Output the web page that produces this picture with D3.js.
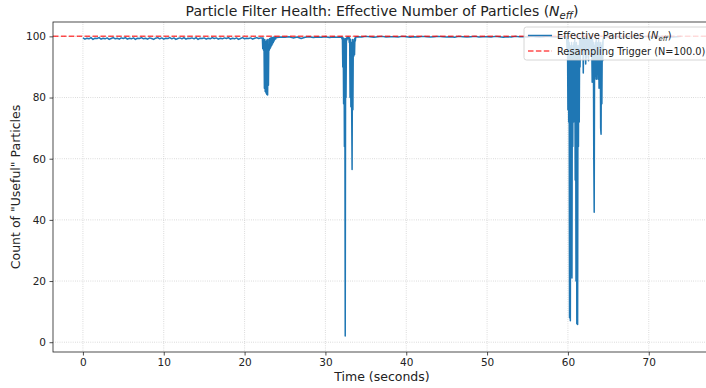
<!DOCTYPE html>
<html>
<head>
<meta charset="utf-8">
<script src="https://cdn.jsdelivr.net/npm/d3@7"></script>
<style>
  body { margin: 0; background: #fff; }
  svg { display: block; font-family: "DejaVu Sans", sans-serif; }
</style>
</head>
<body>
<svg id="chart" width="706" height="388"></svg>
<script>
// quiet stretches: start time, step
const quietA = { start: 0, step: 0.25, values: [
  99.5,99.1,99.4,99.2,99.6,99.0,99.4,99.3,99.6,99.1,
  99.4,99.2,99.5,99.0,99.3,99.6,99.2,99.4,99.1,99.5,
  99.3,99.6,99.1,99.4,99.2,99.5,99.0,99.4,99.3,99.6,
  99.2,99.4,99.1,99.5,99.3,99.0,99.4,99.6,99.2,99.5,
  99.1,99.4,99.3,99.6,99.2,99.5,99.0,99.3,99.5,99.2,
  99.6,99.1,99.4,99.3,99.5,99.2,99.6,99.0,99.4,99.3,
  99.5,99.1,99.4,99.2,99.6,99.3,99.5,99.1,99.4,99.2,
  99.5,99.3,99.6,99.1,99.4,99.2,99.5,99.0,99.3,99.6,
  99.2,99.4,99.3,99.5,99.1,99.4,99.6,99.3,99.5] };
const quietB = { start: 24, step: 0.5, values: [
  99.6,99.8,99.7,99.9,99.5,99.8,99.3,99.7,99.9,99.6,99.8,99.7,99.9,99.6,99.8,99.7] };
const quietC = { start: 34, step: 0.5, values: [
  99.9,99.8,100,99.9,99.7,99.9,100,99.8,99.9,99.9,
  99.8,100,99.9,99.7,99.9,99.8,100,99.9,99.8,99.9,
  100,99.9,99.8,99.9,99.7,100,99.9,99.8,99.9,100,
  99.8,99.9,99.9,99.8,100,99.9,99.7,99.9,99.8,100,
  99.9,99.9,99.8,100,99.9,99.8,99.9,100,99.9,99.8,
  99.9,99.9] };
const quietD = { start: 64.5, step: 0.5, values: [
  99.8,99.9,100,99.9,99.8,99.9,100,99.9,99.9,99.8,100,99.9,99.8,99.9,100,99.9,99.9,99.8,99.9,100] };

// collapse events, sampled every 0.05 s
const dipA = { start: 22.2, step: 0.05, values: [
  99.5,96,99.5,95.5,99,83,99,82,98,81.5,
  98.5,81,99,80.8,97,84,99,95.5,99.2,96,
  99.5,96.5,99.5,97,99.6,97.5,99.6,98,99.7,98.5,
  99.7,99,99.8,99.2,99.8] };
const dipB = { start: 32.0, step: 0.05, values: [
  99.8,99.2,99.7,90,99.5,78,99.3,64,99,2,
  99.2,80,99.5,98.8,99.7,99.2,99.8,99.3,99.7,98,
  99.5,80,99,77,98,76,56.5,99,76,98,
  93.5,99,94,99.5,98.5,99.8] };
const dipC = { start: 59.8, step: 0.05, values: [
  99.8,99,96,99,76,99,72,98,8,97,
  7,96,22,98,21,95,64,97,72,98,
  90,99,53,97,20,98,6,96,5.8,97,
  64,95,72,99,90,99,97,99.5] };
const dipD = { start: 61.7, step: 0.05, values: [
  96,99.5,97,99,88,99,98,99.6,96,
  99,91,99.5,93,99,97,99.6,99,92,99,
  98,99.5,96,99,99.6] };
const dipE = { start: 62.9, step: 0.05, values: [
  99,97,85,99,86,98,60,42.5,97,86,
  98,87,99,86,97,88,98,86,99,83,
  97,84,98,70,68,97,78,98,92,99,
  99.6] };

const triggerN = 100.0;
const xTicks = [0, 10, 20, 30, 40, 50, 60, 70];
const yTicks = [0, 20, 40, 60, 80, 100];

function expand(q) { return q.values.map((v, i) => [q.start + i * q.step, v]); }

const series = [quietA, dipA, quietB, dipB, quietC, dipC, dipD, dipE, quietD]
  .flatMap(expand).sort((a, b) => a[0] - b[0]);

const svg = d3.select("#chart");
const m = { left: 53, right: 711, top: 22, bottom: 352 };

const x = d3.scaleLinear().domain([-3.7, 77.7]).range([m.left, m.right]);
const y = d3.scaleLinear().domain([-3.2, 104.7]).range([m.bottom, m.top]);

svg.append("rect").attr("width", 706).attr("height", 388).attr("fill", "#fff");

// grid
const grid = svg.append("g").attr("stroke", "#c8c8c8").attr("stroke-width", 0.8)
  .attr("stroke-dasharray", "0.8,1.4");
grid.selectAll(".gx").data(xTicks).join("line")
  .attr("x1", d => x(d)).attr("x2", d => x(d)).attr("y1", m.top).attr("y2", m.bottom);
grid.selectAll(".gy").data(yTicks).join("line")
  .attr("x1", m.left).attr("x2", m.right).attr("y1", d => y(d)).attr("y2", d => y(d));

const plot = svg.append("g");
plot.append("path").datum(series)
  .attr("fill", "none").attr("stroke", "#1f77b4").attr("stroke-width", 1.5)
  .attr("stroke-linejoin", "round")
  .attr("d", d3.line().x(d => x(d[0])).y(d => y(d[1])));

plot.append("line")
  .attr("x1", m.left).attr("x2", m.right).attr("y1", y(triggerN)).attr("y2", y(triggerN))
  .attr("stroke", "red").attr("stroke-opacity", 0.7).attr("stroke-width", 1.5)
  .attr("stroke-dasharray", "5.5,2.4");

// axes
const xAxis = svg.append("g").attr("transform", `translate(0,${m.bottom})`)
  .call(d3.axisBottom(x).tickValues(xTicks).tickSize(3.5).tickPadding(3.5));
const yAxis = svg.append("g").attr("transform", `translate(${m.left},0)`)
  .call(d3.axisLeft(y).tickValues(yTicks).tickSize(3.5).tickPadding(3.5));
[xAxis, yAxis].forEach(g => {
  g.select(".domain").remove();
  g.selectAll("line").attr("stroke", "#222").attr("stroke-width", 0.8);
  g.selectAll("text").attr("font-size", 10.5).attr("fill", "#222")
    .attr("font-family", "DejaVu Sans");
});

// spines
svg.append("rect").attr("x", m.left).attr("y", m.top).attr("width", m.right - m.left)
  .attr("height", m.bottom - m.top).attr("fill", "none").attr("stroke", "#222").attr("stroke-width", 0.8);

// title & labels
const title = svg.append("text").attr("x", (m.left + m.right) / 2).attr("y", 16)
  .attr("text-anchor", "middle").attr("font-size", 14).attr("fill", "#222");
title.append("tspan").text("Particle Filter Health: Effective Number of Particles (");
title.append("tspan").attr("font-style", "italic").text("N");
title.append("tspan").attr("font-style", "italic").attr("font-size", 10).attr("dy", 3).text("eff");
title.append("tspan").attr("dy", -3).text(")");

svg.append("text").attr("x", (m.left + m.right) / 2).attr("y", 381)
  .attr("text-anchor", "middle").attr("font-size", 12.5).attr("fill", "#222")
  .text("Time (seconds)");
svg.append("text").attr("transform", `translate(20,${(m.top + m.bottom) / 2}) rotate(-90)`)
  .attr("text-anchor", "middle").attr("font-size", 12.5).attr("fill", "#222")
  .text("Count of \"Useful\" Particles");

// legend
const lg = svg.append("g").attr("transform", "translate(524,27)");
lg.append("rect").attr("width", 190).attr("height", 33).attr("rx", 2.5)
  .attr("fill", "#fff").attr("fill-opacity", 0.8).attr("stroke", "#ccc").attr("stroke-width", 0.8);
lg.append("line").attr("x1", 4).attr("x2", 28).attr("y1", 8.5).attr("y2", 8.5)
  .attr("stroke", "#1f77b4").attr("stroke-width", 1.5);
lg.append("line").attr("x1", 4).attr("x2", 28).attr("y1", 24).attr("y2", 24)
  .attr("stroke", "red").attr("stroke-opacity", 0.7).attr("stroke-width", 1.5)
  .attr("stroke-dasharray", "5.5,2.4");
const l1 = lg.append("text").attr("x", 33).attr("y", 12).attr("font-size", 9.8).attr("fill", "#222");
l1.append("tspan").text("Effective Particles (");
l1.append("tspan").attr("font-style", "italic").text("N");
l1.append("tspan").attr("font-style", "italic").attr("font-size", 7).attr("dy", 2).text("eff");
l1.append("tspan").attr("dy", -2).text(")");
lg.append("text").attr("x", 33).attr("y", 27.5).attr("font-size", 9.8).attr("fill", "#222")
  .text("Resampling Trigger (N=" + triggerN.toFixed(1) + ")");
</script>
</body>
</html>
